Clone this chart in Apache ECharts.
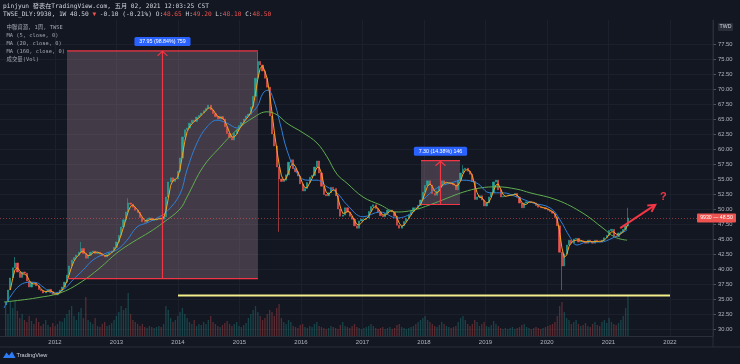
<!DOCTYPE html>
<html><head><meta charset="utf-8">
<script src="https://cdn.jsdelivr.net/npm/echarts@6/dist/echarts.min.js"></script>
<style>html,body{margin:0;padding:0;background:#131722;}#c{width:740px;height:364px;}</style>
</head><body><div id="c"></div>
<script>
// ---------- data ----------
const startYear = 2011.197;          // first candle, 2011-03-14
const stepYears = 14 / 365.25;       // one candle every two weeks
const firstOpen = 34.0;
const closes = [
34.5,36.5,38.5,40.2,41.0,39.5,38.6,39.5,39.3,38.0,
37.0,37.8,37.7,37.2,36.6,36.4,36.0,36.3,36.6,36.2,
35.8,35.7,36.0,36.5,37.0,37.8,39.0,40.5,41.5,41.9,
42.3,42.8,43.4,42.6,41.8,42.3,42.8,43.0,42.6,42.8,
42.5,42.2,42.0,42.4,42.7,43.0,43.6,44.5,45.6,47.0,
48.2,49.5,51.0,50.8,50.3,49.8,49.4,48.6,47.9,47.8,
48.3,48.5,48.1,48.2,48.4,48.5,48.3,48.7,52.0,54.5,
55.2,54.6,55.0,56.3,58.5,62.0,63.2,63.5,64.3,64.8,
64.6,65.3,65.6,66.0,66.4,66.8,67.3,66.5,65.9,65.4,
65.0,65.4,65.0,63.7,62.6,61.9,61.5,62.6,63.2,63.9,
64.4,65.0,65.5,65.8,67.0,68.8,71.8,74.6,74.0,73.0,
71.8,70.3,65.5,62.5,60.5,57.0,55.0,54.6,54.8,55.7,
57.8,58.2,56.7,56.2,55.5,54.2,53.0,53.4,54.4,55.3,
55.6,57.0,58.0,56.0,53.8,52.4,52.2,52.7,53.6,53.4,
52.2,50.0,48.8,49.0,50.2,49.5,48.8,48.3,47.2,46.8,
48.0,48.3,48.3,48.5,49.6,50.4,50.7,50.1,49.5,48.9,
48.7,49.3,49.8,49.8,49.5,48.8,47.3,46.8,47.2,47.9,
48.4,49.0,49.6,50.2,50.1,50.6,51.5,52.8,53.9,54.7,
54.0,52.6,52.3,53.0,53.8,54.7,54.3,54.3,54.4,54.2,
54.0,53.2,54.8,56.0,56.6,56.8,56.3,55.8,54.6,51.6,
52.0,52.2,51.5,50.5,51.0,52.0,52.7,54.5,54.8,53.2,
52.0,52.1,52.2,52.3,52.3,52.4,52.6,52.0,51.0,50.2,
51.0,51.2,51.2,51.1,51.0,50.6,50.3,50.2,50.2,50.0,
49.8,49.6,49.3,48.6,47.2,42.8,40.5,42.5,44.0,44.8,
44.3,45.0,45.1,44.5,44.7,44.6,44.3,44.8,44.6,44.3,
44.8,44.6,44.5,44.8,45.2,45.6,46.4,46.6,45.5,45.4,
46.0,46.2,46.6,47.2,48.5
];
// [candle index, low, high] for visible wicks
const wickSpikes = [[4,null,42.0],[32,null,44.5],[52,null,51.8],[107,null,76.2],[116,46.2,null],[194,null,57.3],[236,36.5,null],[264,null,50.2]];
// volume (relative units)
const volumes = [
30,22,34,28,36,25,18,22,16,14,20,
15,12,18,14,10,12,16,11,9,13,10,12,15,14,18,22,26,30,20,16,
24,28,18,39,16,14,12,18,10,9,12,14,10,11,13,16,20,24,30,26,
28,43,22,16,14,12,10,12,9,8,10,9,8,9,10,9,12,30,26,18,
14,16,20,24,28,22,18,14,12,16,10,12,11,14,12,16,20,14,12,10,9,11,13,15,12,10,12,14,10,9,11,13,18,22,26,30,24,20,16,18,
22,26,24,20,28,32,18,14,12,16,14,10,9,8,11,12,9,8,10,9,12,14,10,9,8,7,8,10,9,8,7,11,14,10,9,8,10,12,9,8,
7,8,9,10,12,10,8,7,8,9,7,8,9,7,8,11,12,9,8,7,8,9,10,12,14,16,18,20,16,14,12,10,9,11,14,12,10,9,8,9,
10,14,18,20,16,12,10,12,16,14,10,12,14,10,9,11,15,12,10,8,7,8,7,8,9,7,8,9,11,12,9,8,7,8,9,8,7,8,9,10,
11,12,14,20,30,34,24,18,16,12,14,16,12,10,11,13,10,9,12,14,11,10,14,16,13,18,14,12,11,13,16,20,28,40
];
// MA(20) line: [year, value]
const ma20Pts = [[2011.171,33.5],[2011.268,35.3],[2011.431,37.3],[2011.593,37.8],[2011.707,37.7],[2011.805,37.0],[2011.967,36.0],[2012.130,36.5],[2012.293,38.2],[2012.455,39.8],[2012.618,41.5],[2012.846,42.7],[2013.008,43.2],[2013.171,44.8],[2013.333,47.0],[2013.496,47.7],[2013.659,48.5],[2013.821,49.6],[2014.033,52.5],[2014.146,56.5],[2014.309,61.0],[2014.472,63.7],[2014.634,64.8],[2014.797,64.3],[2014.959,63.5],[2015.122,65.3],[2015.285,67.0],[2015.382,69.3],[2015.463,69.8],[2015.545,68.5],[2015.659,64.3],[2015.772,59.8],[2015.935,56.0],[2016.098,54.8],[2016.260,54.8],[2016.423,53.7],[2016.585,52.7],[2016.748,50.7],[2017.008,48.7],[2017.285,49.5],[2017.561,48.5],[2017.821,49.5],[2017.984,51.5],[2018.211,53.5],[2018.423,54.3],[2018.634,54.8],[2018.862,54.3],[2019.073,52.7],[2019.285,52.7],[2019.512,52.0],[2019.772,51.0],[2020.049,50.2],[2020.211,48.2],[2020.374,45.3],[2020.488,44.0],[2020.650,44.5],[2020.862,44.5],[2021.073,45.2],[2021.301,46.5]];
// MA(160) line: [year, value]
const ma160Pts = [[2011.171,34.5],[2011.431,34.8],[2011.707,35.2],[2012.081,36.0],[2012.407,37.7],[2012.732,40.2],[2013.008,42.7],[2013.268,44.5],[2013.545,46.2],[2013.756,47.7],[2014.033,50.0],[2014.146,52.0],[2014.407,57.0],[2014.683,60.3],[2014.959,63.2],[2015.220,65.2],[2015.447,66.2],[2015.610,65.7],[2015.772,64.3],[2016.033,62.7],[2016.260,61.0],[2016.423,58.7],[2016.585,55.8],[2016.748,54.3],[2017.008,52.0],[2017.285,50.7],[2017.561,49.5],[2017.821,49.8],[2018.098,50.7],[2018.374,51.8],[2018.634,52.8],[2018.911,53.5],[2019.187,53.7],[2019.512,53.3],[2019.724,52.7],[2020.163,51.5],[2020.585,49.3],[2020.911,46.8],[2021.106,45.3],[2021.301,44.8]];
const yearTicks = [2012,2013,2014,2015,2016,2017,2018,2019,2020,2021,2022];
const priceTicks = [30,32.5,35,37.5,40,42.5,45,47.5,50,52.5,55,57.5,60,62.5,65,67.5,70,72.5,75,77.5];
const rangeBoxes = [
  {x0:2012.195, x1:2015.300, lo:38.40, hi:76.35, label:'37.95 (98.84%) 759'},
  {x0:2017.951, x1:2018.585, lo:50.75, hi:58.05, label:'7.30 (14.38%) 146'}
];
const supportLine = {x0:2014.0, x1:2022.0, v:35.6};
const arrowFrom = [2021.19, 46.8], arrowTo = [2021.76, 50.7], questionAt = [2021.89, 52.0];
const lastPrice = 48.50;

// ---------- build ----------
const xs = closes.map((c,i)=>startYear + i*stepYears);
const candles = closes.map((c,i)=>{
  const o = i===0 ? firstOpen : closes[i-1];
  return [xs[i], o, c, Math.min(o,c), Math.max(o,c)];
});
wickSpikes.forEach(([i,l,h])=>{ if(l!=null) candles[i][3]=l; if(h!=null) candles[i][4]=h; });
const ma5 = [];
for (let i=2;i<closes.length;i++) ma5.push([xs[i], (closes[i]+closes[i-1]+closes[i-2])/3]);
const volData = volumes.map((v,i)=>({value:[xs[i], v], itemStyle:{color: candles[i][2]>=candles[i][1] ? 'rgba(38,166,154,0.32)' : 'rgba(239,83,80,0.32)'}}));

const xMin = 2011.1057, xMax = 2022.699;
const yMin = 28.8333, yMax = 81.5;
const lblFont = 'Liberation Sans';

const option = {
  backgroundColor:'#131722',
  animation:false,
  grid:{left:0,right:27,top:20,bottom:28},
  xAxis:{type:'value', min:xMin, max:xMax,
    axisLine:{show:true, lineStyle:{color:'#2a2e39'}},
    axisTick:{show:false, customValues:yearTicks},
    axisLabel:{customValues:yearTicks, formatter:v=>String(Math.round(v)), color:'#b2b5be', fontSize:6, fontFamily:lblFont, margin:3},
    splitLine:{show:true, lineStyle:{color:'#1c202c', width:1}}},
  yAxis:[{type:'value', position:'right', min:yMin, max:yMax,
    axisLine:{show:true, lineStyle:{color:'#2a2e39'}},
    axisTick:{show:true, length:3, customValues:priceTicks, lineStyle:{color:'#50535e'}},
    axisLabel:{customValues:priceTicks, formatter:v=>v.toFixed(2), color:'#b2b5be', fontSize:5.8, fontFamily:lblFont, margin:5},
    splitLine:{show:true, lineStyle:{color:'#1c202c'}}},
    {type:'value', min:0, max:316, show:false}],
  series:[
    {type:'bar', yAxisIndex:1, data:volData, barWidth:1.3, z:1.5, silent:true},
    {type:'candlestick', data:candles, encode:{x:0, y:[1,2,3,4]}, barWidth:1.7, z:3,
     itemStyle:{color:'#26a69a', color0:'#ef5350', borderColor:'#26a69a', borderColor0:'#ef5350', borderWidth:0.6},
     markLine:{symbol:'none', silent:true, label:{show:false}, lineStyle:{color:'#ef5350', type:[1,2], width:0.7, opacity:0.8}, data:[{yAxis:lastPrice}]}},
    {type:'line', data:ma160Pts, smooth:0.4, showSymbol:false, lineStyle:{color:'#5fae4e', width:1}, z:4},
    {type:'line', data:ma20Pts, smooth:0.4, showSymbol:false, lineStyle:{color:'#2f7fd8', width:1}, z:4},
    {type:'line', data:ma5, smooth:false, showSymbol:false, lineStyle:{color:'#f7a21b', width:1}, z:5}
  ]
};
const chart = echarts.init(document.getElementById('c'));
chart.setOption(option);

const P = (x,y)=>chart.convertToPixel({xAxisIndex:0, yAxisIndex:0}, [x,y]);
const g = [];
function txt(x,y,text,fill,font,align,extra){
  const o = {type:'text', x, y, z:60, silent:true, style:Object.assign({text, fill, font, align:align||'left', verticalAlign:'middle', textAlign:align||'left', textVerticalAlign:'middle'}, extra||{})};
  g.push(o);
}
function ln(x1,y1,x2,y2,stroke,w,z){ g.push({type:'line', z:z||50, silent:true, shape:{x1,y1,x2,y2}, style:{stroke, lineWidth:w}}); }

rangeBoxes.forEach(b=>{
  const a = P(b.x0,b.hi), c = P(b.x1,b.lo);
  const mx = (a[0]+c[0])/2;
  g.push({type:'rect', z:1, silent:true, shape:{x:a[0], y:a[1], width:c[0]-a[0], height:c[1]-a[1]}, style:{fill:'rgba(180,140,160,0.30)'}});
  ln(a[0],a[1],c[0],a[1],'#f23645',1.2);
  ln(a[0],c[1],c[0],c[1],'#f23645',1.2);
  ln(mx,c[1],mx,a[1],'#f23645',1.2);
  g.push({type:'polyline', z:50, silent:true, shape:{points:[[mx-5,a[1]+5],[mx,a[1]+0.5],[mx+5,a[1]+5]]}, style:{stroke:'#f23645', lineWidth:1.2, fill:null}});
  const w = b.label.length*2.95 + 3;
  g.push({type:'rect', z:55, silent:true, shape:{x:mx-w/2, y:a[1]-14, width:w, height:9, r:1.5}, style:{fill:'#2962ff'}});
  txt(mx, a[1]-9.5, b.label, '#ffffff', '5.3px "Liberation Sans"', 'center');
});
// support line
const s0 = P(supportLine.x0, supportLine.v), s1 = P(supportLine.x1, supportLine.v);
ln(s0[0],s0[1],s1[0],s1[1],'#f3ee8a',2);
// arrow
const a0 = P(arrowFrom[0],arrowFrom[1]), a1 = P(arrowTo[0],arrowTo[1]);
ln(a0[0],a0[1],a1[0],a1[1],'#f23645',2);
const ang = Math.atan2(a1[1]-a0[1], a1[0]-a0[0]);
const hl = 8, ha = 0.5;
g.push({type:'polyline', z:50, silent:true, shape:{points:[
  [a1[0]-hl*Math.cos(ang-ha), a1[1]-hl*Math.sin(ang-ha)], [a1[0],a1[1]],
  [a1[0]-hl*Math.cos(ang+ha), a1[1]-hl*Math.sin(ang+ha)]]}, style:{stroke:'#f23645', lineWidth:2, fill:null}});
const q = P(questionAt[0], questionAt[1]);
txt(q[0], q[1], '?', '#f23645', 'bold 11px "Liberation Sans"', 'center');

// price label on axis
const pl = P(xMax, lastPrice);
g.push({type:'rect', z:55, silent:true, shape:{x:697, y:pl[1]-4.5, width:39, height:9, r:1}, style:{fill:'#ef5350'}});
txt(716.5, pl[1], '9930 \u2014 48.50', '#ffffff', '5.2px "Liberation Sans"', 'center');

// axis frame lines
ln(713,20,713,347,'#2a2e39',1,40);
ln(0,347,740,347,'#2a2e39',1,40);
// TWD box
g.push({type:'rect', z:55, silent:true, shape:{x:718, y:23, width:15, height:8, r:1}, style:{fill:'#2a2e39'}});
txt(725.5, 27, 'TWD', '#d1d4dc', '5.2px "Liberation Sans"', 'center');

// header
const mono = '"DejaVu Sans Mono", "Noto Sans CJK TC"';
txt(3, 6, 'pinjyun 發表在TradingView.com, 五月 02, 2021 12:03:25 CST', '#d1d4dc', '6.2px ' + mono);
g.push({type:'text', x:3, y:14.5, z:60, silent:true, style:{
  text:'{w|TWSE_DLY:9930, 1W 48.50 }{r|\u25BC}{w| -0.10 (-0.21%) O:}{r|48.65}{w| H:}{r|49.20}{w| L:}{r|48.10}{w| C:}{r|48.50}',
  font:'6.2px ' + mono, fill:'#d1d4dc', align:'left', verticalAlign:'middle', textAlign:'left', textVerticalAlign:'middle',
  rich:{w:{fill:'#d1d4dc', font:'6.2px ' + mono}, r:{fill:'#ef5350', font:'6.2px ' + mono}}}});
// legend
const legendLines = ['中聯資源, 1周, TWSE','MA (5, close, 0)','MA (20, close, 0)','MA (160, close, 0)','成交量(Vol)'];
legendLines.forEach((t,i)=>txt(6.5, 27.3 + i*8, t, '#a3a6af', '5.4px ' + mono));
// TradingView logo
g.push({type:'polygon', z:60, silent:true, shape:{points:[[3,358],[6.5,352.5],[9,355.5],[12,351.5],[15.5,358]]}, style:{fill:'#2e7bf6'}});
txt(16.5, 355, 'TradingView', '#d1d4dc', '5.6px "Liberation Sans"');

chart.setOption({graphic:{elements:g}});
</script>
</body></html>
